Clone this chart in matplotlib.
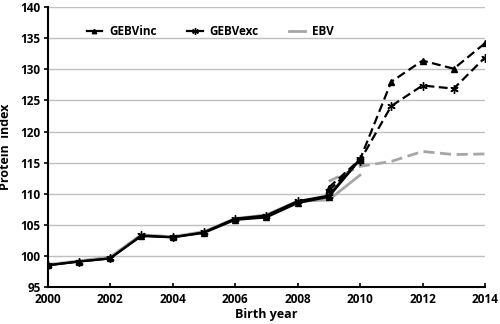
import matplotlib
matplotlib.use("Agg")
import matplotlib.pyplot as plt

plt.rcParams['font.family'] = ['Open Sans', 'DejaVu Sans']
plt.rcParams['font.weight'] = 'bold'

# observed period (solid lines)
years_obs = [2000, 2001, 2002, 2003, 2004, 2005, 2006, 2007, 2008, 2009, 2010]
gebv_inc = [98.5, 99.1, 99.6, 103.2, 103.0, 103.7, 105.8, 106.2, 108.5, 109.5, 115.5]
gebv_exc = [98.5, 99.1, 99.6, 103.3, 103.0, 103.8, 106.0, 106.5, 108.8, 109.7, 115.6]
ebv = [98.6, 99.2, 99.8, 103.4, 103.1, 103.9, 106.0, 106.6, 108.8, 109.0, 113.0]

# predicted period (dashed lines)
years_pred = [2009, 2010, 2011, 2012, 2013, 2014]
gebv_inc_pred = [111.0, 115.5, 128.0, 131.4, 130.1, 134.2]
gebv_exc_pred = [110.5, 115.3, 124.1, 127.4, 126.9, 131.9]
ebv_pred = [112.0, 114.4, 115.2, 116.8, 116.3, 116.4]

fig = plt.figure(figsize=(5.0, 3.24), dpi=100)
ax = fig.add_axes([0.095, 0.114, 0.875, 0.864])

grey = '#a6a6a6'
star = (6, 2, 0)
ax.plot(years_obs, ebv, color=grey, lw=2.0, label='EBV', zorder=2)
ax.plot(years_obs, gebv_inc, color='black', lw=1.6, marker='^', ms=4, label='GEBVinc', zorder=3)
ax.plot(years_obs, gebv_exc, color='black', lw=1.6, marker=star, ms=6, mew=1.0, label='GEBVexc', zorder=3)

ax.plot(years_pred, ebv_pred, color=grey, lw=2.0, ls=(0, (4, 2)), zorder=2)
ax.plot(years_pred, gebv_inc_pred, color='black', lw=1.6, ls=(0, (4, 2)), marker='^', ms=4, zorder=3)
ax.plot(years_pred, gebv_exc_pred, color='black', lw=1.6, ls=(0, (4, 2)), marker=star, ms=6, mew=1.0, zorder=3)

ax.set_xlim(2000, 2014)
ax.set_ylim(95, 140)
ax.set_xticks(range(2000, 2015, 2))
ax.set_yticks(range(95, 141, 5))
ax.yaxis.grid(True, color='#c0c0c0', lw=1.0)
ax.set_axisbelow(True)
for s in ['top', 'right']:
    ax.spines[s].set_visible(False)
for s in ['left', 'bottom']:
    ax.spines[s].set_linewidth(1.5)
ax.tick_params(axis='both', labelsize=8.5, width=1.2, length=3)
ax.tick_params(axis='x', direction='in', pad=4)
ax.tick_params(axis='y', direction='out', length=3, pad=2)

ax.set_xlabel('Birth year', fontsize=9, fontweight='bold', labelpad=2)
ax.set_ylabel('Protein  index', fontsize=9, fontweight='bold', labelpad=6)

h, l = ax.get_legend_handles_labels()
order = [1, 2, 0]
ax.legend([h[i] for i in order], [l[i] for i in order], ncol=3, frameon=False,
          loc='upper left', bbox_to_anchor=(0.065, 0.975), fontsize=8.5,
          handlelength=1.3, columnspacing=2.6, handletextpad=0.6, markerscale=0.8)

fig.savefig('out.png', dpi=100)
